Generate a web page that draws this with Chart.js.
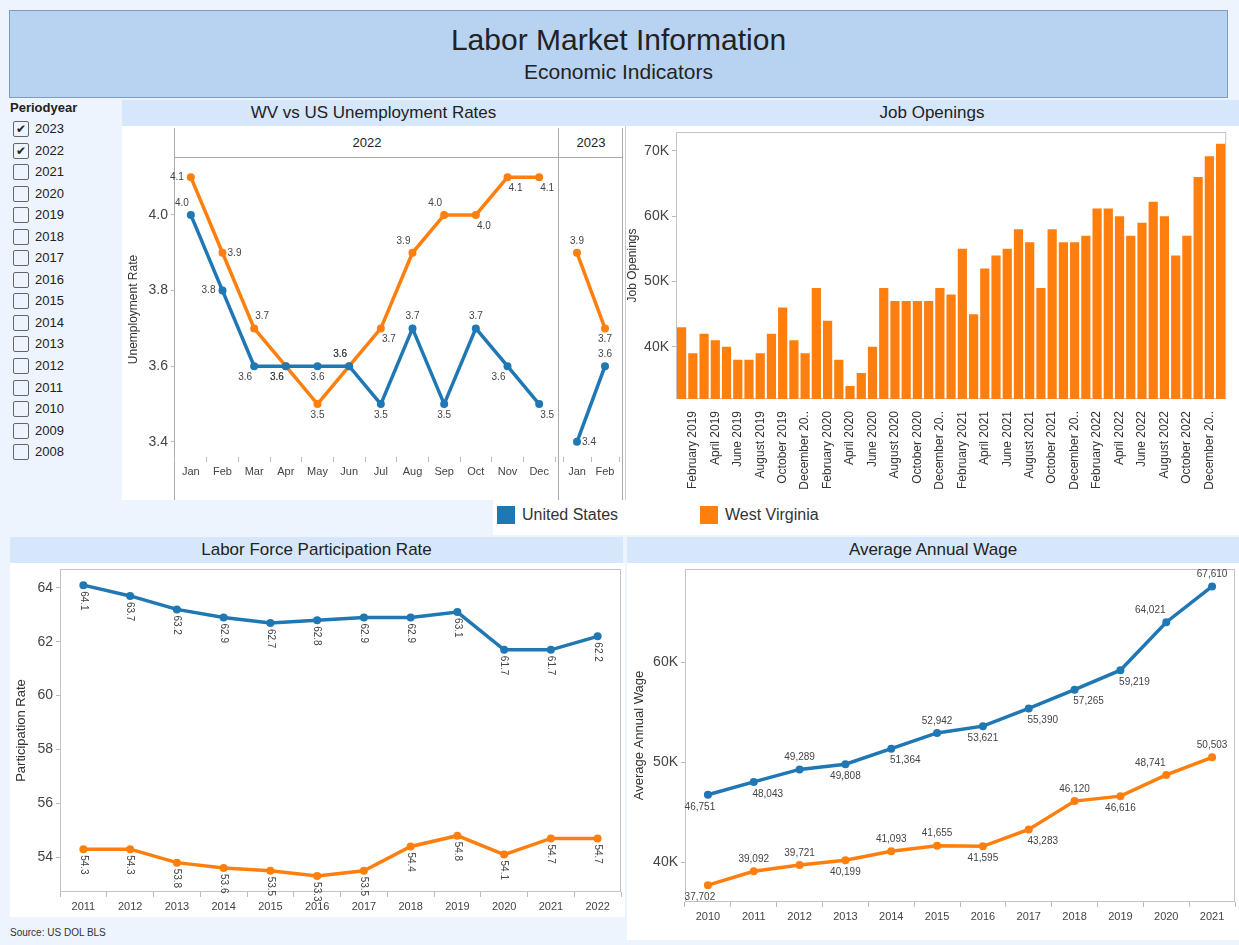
<!DOCTYPE html>
<html>
<head>
<meta charset="utf-8">
<script src="https://cdn.jsdelivr.net/npm/chart.js@4.4.0/dist/chart.umd.min.js"></script>
<style>
  body { margin: 0; background: #edf4fd; font-family: Arial, "Liberation Sans", sans-serif; color: #222; }
  #page { position: relative; width: 1239px; height: 945px; overflow: hidden; }
  .abs { position: absolute; }
  .banner { left: 9px; top: 10px; width: 1217px; height: 86px; background: #b8d3f2; border: 1px solid #7f9cc0; text-align: center; }
  .banner h1 { margin: 0; position: absolute; top: 12px; width: 100%; font-size: 30px; font-weight: normal; }
  .banner h2 { margin: 0; position: absolute; top: 49px; width: 100%; font-size: 21px; font-weight: normal; }
  .bar { background: #d6e7fb; height: 26px; line-height: 26px; text-align: center; font-size: 17px; }
  .panel { background: #fff; }
  .filter { left: 10px; top: 100px; font-size: 13px; }
  .filter b { display: block; height: 18px; }
  .cb { position: relative; height: 21.55px; line-height: 21.55px; padding-left: 25px; }
  .cb span { position: absolute; left: 3px; top: 3px; width: 14px; height: 14px; border: 1.5px solid #666; border-radius: 2px; font-size: 12px; line-height: 14px; text-align: center; }
  .legend { left: 493px; top: 500px; width: 746px; height: 35px; background: #fff; font-size: 16px; }
  .legend i { position: absolute; top: 6px; width: 18px; height: 18px; }
  .legend em { position: absolute; top: 6px; font-style: normal; color: #333; }
  canvas { position: absolute; }
</style>
</head>
<body>
<div id="page">
  <div class="abs banner"><h1>Labor Market Information</h1><h2>Economic Indicators</h2></div>

  <div class="abs filter" id="filter"><b>Periodyear</b></div>

  <div class="abs bar" style="left:122px;top:100px;width:503px;">WV vs US Unemployment Rates</div>
  <div class="abs bar" style="left:625px;top:100px;width:614px;">Job Openings</div>
  <div class="abs panel" style="left:122px;top:126px;width:503px;height:374px;"></div>
  <div class="abs panel" style="left:625px;top:126px;width:614px;height:374px;border-left:1px solid #ccc;"></div>

  <!-- facet header and frame lines for the unemployment panel -->
  <div class="abs" style="left:175px;top:128px;width:384px;height:29px;line-height:30px;text-align:center;font-size:13px;border-bottom:1px solid #aaa;">2022</div>
  <div class="abs" style="left:559px;top:128px;width:64px;height:29px;line-height:30px;text-align:center;font-size:13px;border-bottom:1px solid #aaa;">2023</div>
  <div class="abs" style="left:174px;top:128px;width:1px;height:372px;background:#aaa;"></div>
  <div class="abs" style="left:558px;top:128px;width:1px;height:372px;background:#aaa;"></div>
  <div class="abs" style="left:622px;top:128px;width:1px;height:372px;background:#aaa;"></div>

  <div class="abs legend">
    <i style="left:4px;background:#1f77b4;"></i><em style="left:29px;">United States</em>
    <i style="left:207px;background:#ff7f0e;"></i><em style="left:232px;">West Virginia</em>
  </div>

  <div class="abs bar" style="left:10px;top:537px;width:613px;">Labor Force Participation Rate</div>
  <div class="abs bar" style="left:627px;top:537px;width:612px;">Average Annual Wage</div>
  <div class="abs panel" style="left:10px;top:563px;width:615px;height:354px;"></div>
  <div class="abs panel" style="left:627px;top:563px;width:612px;height:377px;"></div>
  <div class="abs" style="left:10px;top:927px;font-size:10px;color:#333;">Source: US DOL BLS</div>

  <canvas id="unemp22" width="437" height="342" style="left:122px;top:158px;"></canvas>
  <canvas id="unemp23" width="64" height="342" style="left:559px;top:158px;"></canvas>
  <canvas id="jobs" width="614" height="372" style="left:625px;top:128px;"></canvas>
  <canvas id="lfpr" width="615" height="352" style="left:10px;top:565px;"></canvas>
  <canvas id="wage" width="612" height="375" style="left:627px;top:565px;"></canvas>
</div>

<script>
// ---- data ----
var filterYears = [2023, 2022, 2021, 2020, 2019, 2018, 2017, 2016, 2015, 2014, 2013, 2012, 2011, 2010, 2009, 2008];
var checkedYears = [2023, 2022];

var months2022 = ["Jan", "Feb", "Mar", "Apr", "May", "Jun", "Jul", "Aug", "Sep", "Oct", "Nov", "Dec"];
var months2023 = ["Jan", "Feb"];
var usUnemp2022 = [4.0, 3.8, 3.6, 3.6, 3.6, 3.6, 3.5, 3.7, 3.5, 3.7, 3.6, 3.5];
var wvUnemp2022 = [4.1, 3.9, 3.7, 3.6, 3.5, 3.6, 3.7, 3.9, 4.0, 4.0, 4.1, 4.1];
var usUnemp2023 = [3.4, 3.6];
var wvUnemp2023 = [3.9, 3.7];
var unempTicks = [3.4, 3.6, 3.8, 4.0];

var jobMonths = [
  "January 2019", "February 2019", "March 2019", "April 2019", "May 2019", "June 2019",
  "July 2019", "August 2019", "September 2019", "October 2019", "November 2019", "December 2019",
  "January 2020", "February 2020", "March 2020", "April 2020", "May 2020", "June 2020",
  "July 2020", "August 2020", "September 2020", "October 2020", "November 2020", "December 2020",
  "January 2021", "February 2021", "March 2021", "April 2021", "May 2021", "June 2021",
  "July 2021", "August 2021", "September 2021", "October 2021", "November 2021", "December 2021",
  "January 2022", "February 2022", "March 2022", "April 2022", "May 2022", "June 2022",
  "July 2022", "August 2022", "September 2022", "October 2022", "November 2022", "December 2022",
  "January 2023"
];
var jobOpenings = [
  43000, 39000, 42000, 41000, 40000, 38000, 38000, 39000, 42000, 46000, 41000, 39000,
  49000, 44000, 38000, 34000, 36000, 40000, 49000, 47000, 47000, 47000, 47000, 49000,
  48000, 55000, 45000, 52000, 54000, 55000, 58000, 56000, 49000, 58000, 56000, 56000,
  57000, 61200, 61200, 60000, 57000, 59000, 62200, 60000, 54000, 57000, 66000, 69200,
  71100
];
var jobTicks = [40000, 50000, 60000, 70000];

var lfprYears = ["2011", "2012", "2013", "2014", "2015", "2016", "2017", "2018", "2019", "2020", "2021", "2022"];
var usLfpr = [64.1, 63.7, 63.2, 62.9, 62.7, 62.8, 62.9, 62.9, 63.1, 61.7, 61.7, 62.2];
var wvLfpr = [54.3, 54.3, 53.8, 53.6, 53.5, 53.3, 53.5, 54.4, 54.8, 54.1, 54.7, 54.7];
var lfprTicks = [54, 56, 58, 60, 62, 64];

var wageYears = ["2010", "2011", "2012", "2013", "2014", "2015", "2016", "2017", "2018", "2019", "2020", "2021"];
var usWage = [46751, 48043, 49289, 49808, 51364, 52942, 53621, 55390, 57265, 59219, 64021, 67610];
var wvWage = [37702, 39092, 39721, 40199, 41093, 41655, 41595, 43283, 46120, 46616, 48741, 50503];
var wageTicks = [40000, 50000, 60000];

// ---- filter list ----
var filter = document.getElementById('filter');
filterYears.forEach(function (y) {
  var d = document.createElement('div');
  d.className = 'cb';
  d.innerHTML = '<span>' + (checkedYears.indexOf(y) >= 0 ? '\u2714' : '') + '</span>' + y;
  filter.appendChild(d);
});

// ---- chart setup ----
var BLUE = '#1f77b4';
var ORANGE = '#ff7f0e';
Chart.defaults.font.family = 'Arial, "Liberation Sans", sans-serif';
Chart.defaults.color = '#333';
Chart.defaults.animation = false;

// pin the axis box sizes so plot areas line up with the layout
function fixWidth(w) { return function (s) { s.width = w; s.paddingTop = 0; s.paddingBottom = 0; }; }
function fixHeight(h) { return function (s) { s.height = h; }; }
function useTicks(list) {
  return function (s) { s.ticks = list.map(function (v) { return { value: v }; }); };
}
function kLabel(v) { return (v / 1000) + 'K'; }

// value labels next to points
var valueLabels = {
  id: 'valueLabels',
  afterDatasetsDraw: function (chart, args, opts) {
    var ctx = chart.ctx;
    var off = opts.offsets || {};
    chart.data.datasets.forEach(function (ds, i) {
      if (!ds.labelPos) return;
      var meta = chart.getDatasetMeta(i);
      meta.data.forEach(function (pt, j) {
        var txt = opts.format(ds.data[j]);
        ctx.save();
        ctx.font = (opts.size || 10) + 'px Arial, "Liberation Sans", sans-serif';
        ctx.fillStyle = '#444';
        if (opts.rotate) {
          ctx.translate(pt.x, pt.y + 6);
          ctx.rotate(Math.PI / 2);
          ctx.textAlign = 'left';
          ctx.textBaseline = 'middle';
          ctx.fillText(txt, 0, 0);
        } else {
          var o = off[ds.labelPos[j]] || [0, 0];
          ctx.textAlign = 'center';
          ctx.textBaseline = 'middle';
          ctx.fillText(txt, pt.x + o[0], pt.y + o[1]);
        }
        ctx.restore();
      });
    });
  }
};

// thin frame round the plot area
var plotFrame = {
  id: 'plotFrame',
  beforeDraw: function (chart) {
    var a = chart.chartArea, ctx = chart.ctx;
    ctx.save();
    ctx.strokeStyle = '#c4c4c4';
    ctx.lineWidth = 1;
    ctx.strokeRect(a.left + 0.5, a.top + 0.5, a.right - a.left - 1, a.bottom - a.top - 1);
    ctx.restore();
  }
};

function lineSet(label, data, color, pos) {
  return {
    label: label, data: data, borderColor: color, backgroundColor: color,
    borderWidth: 3.5, pointRadius: 4, pointHoverRadius: 4, pointBorderWidth: 0,
    tension: 0, clip: false, labelPos: pos
  };
}

function catAxis(size, h) {
  return {
    offset: true,
    grid: { offset: true, drawOnChartArea: false, tickLength: 5, color: '#bbb' },
    border: { display: false },
    ticks: { font: { size: size }, color: '#444', padding: 3, maxRotation: 0, autoSkip: false },
    afterFit: fixHeight(h)
  };
}

function valueAxis(min, max, list, title, titleSize, titlePad, width, fmt) {
  return {
    min: min, max: max,
    grid: { drawOnChartArea: false, tickLength: 4, color: '#bbb' },
    border: { display: false },
    ticks: { font: { size: 14 }, color: '#444', padding: 3, callback: fmt },
    title: { display: true, text: title, font: { size: titleSize }, color: '#333', padding: { top: titlePad, bottom: 0 } },
    afterBuildTicks: useTicks(list),
    afterFit: fixWidth(width)
  };
}

var unempOffsets = { a: [0, -12], b: [0, 11], l: [-14, 0], r: [12, 0], al: [-9, -12], ar: [8, -12], bl: [-9, 11], br: [8, 11] };
var unempLabelOpts = { format: function (v) { return v.toFixed(1); }, size: 10, offsets: unempOffsets };
function oneDecimal(v) { return v.toFixed(1); }

new Chart(document.getElementById('unemp22'), {
  type: 'line',
  data: {
    labels: months2022,
    datasets: [
      lineSet('United States', usUnemp2022, BLUE, ['al', 'l', 'bl', 'bl', 'b', 'al', 'b', 'a', 'b', 'a', 'bl', 'br']),
      lineSet('West Virginia', wvUnemp2022, ORANGE, ['l', 'r', 'ar', 'bl', 'b', 'al', 'br', 'al', 'al', 'br', 'br', 'br'])
    ]
  },
  options: {
    responsive: false,
    layout: { padding: 0 },
    plugins: { legend: { display: false }, tooltip: { enabled: false }, valueLabels: unempLabelOpts },
    scales: {
      x: catAxis(11, 43),
      y: valueAxis(3.36, 4.14, unempTicks, 'Unemployment Rate', 12, 4, 53, oneDecimal)
    }
  },
  plugins: [valueLabels]
});

new Chart(document.getElementById('unemp23'), {
  type: 'line',
  data: {
    labels: months2023,
    datasets: [
      lineSet('United States', usUnemp2023, BLUE, ['r', 'a']),
      lineSet('West Virginia', wvUnemp2023, ORANGE, ['a', 'b'])
    ]
  },
  options: {
    responsive: false,
    layout: { padding: 0 },
    plugins: { legend: { display: false }, tooltip: { enabled: false }, valueLabels: unempLabelOpts },
    scales: {
      x: catAxis(11, 43),
      y: { min: 3.36, max: 4.14, display: false }
    }
  },
  plugins: [valueLabels]
});

// job openings
var measureCtx = document.createElement('canvas').getContext('2d');
measureCtx.font = '12px Arial, "Liberation Sans", sans-serif';
new Chart(document.getElementById('jobs'), {
  type: 'bar',
  data: {
    labels: jobMonths,
    datasets: [{ label: 'Job Openings', data: jobOpenings, backgroundColor: ORANGE,
                 categoryPercentage: 1, barPercentage: 0.82 }]
  },
  options: {
    responsive: false,
    layout: { padding: { top: 4, right: 1 } },
    plugins: { legend: { display: false }, tooltip: { enabled: false } },
    scales: {
      x: {
        grid: { display: false },
        border: { display: false },
        ticks: {
          autoSkip: false, minRotation: 90, maxRotation: 90, padding: 4,
          font: { size: 12 }, color: '#333',
          callback: function (v, i) {
            if (i % 2 === 0) return '';
            var l = jobMonths[i];
            if (measureCtx.measureText(l).width > 80) return l.slice(0, l.length - 2) + '..';
            return l;
          }
        },
        afterFit: fixHeight(101)
      },
      y: valueAxis(32000, 72900, jobTicks, 'Job Openings', 12, 0, 51, kLabel)
    }
  },
  plugins: [plotFrame]
});

// labour force participation
new Chart(document.getElementById('lfpr'), {
  type: 'line',
  data: {
    labels: lfprYears,
    datasets: [
      lineSet('United States', usLfpr, BLUE, usLfpr.map(function () { return 'b'; })),
      lineSet('West Virginia', wvLfpr, ORANGE, wvLfpr.map(function () { return 'b'; }))
    ]
  },
  options: {
    responsive: false,
    layout: { padding: { top: 2, right: 1 } },
    plugins: { legend: { display: false }, tooltip: { enabled: false },
               valueLabels: { format: oneDecimal, size: 10, rotate: true } },
    scales: {
      x: catAxis(11, 25),
      y: valueAxis(52.71, 64.7, lfprTicks, 'Participation Rate', 13, 4, 50, function (v) { return v; })
    }
  },
  plugins: [plotFrame, valueLabels]
});

// average annual wage
new Chart(document.getElementById('wage'), {
  type: 'line',
  data: {
    labels: wageYears,
    datasets: [
      lineSet('United States', usWage, BLUE, ['bl', 'br', 'a', 'b', 'br', 'a', 'b', 'br', 'br', 'br', 'al', 'a']),
      lineSet('West Virginia', wvWage, ORANGE, ['bl', 'a', 'a', 'b', 'a', 'a', 'b', 'br', 'a', 'b', 'al', 'a'])
    ]
  },
  options: {
    responsive: false,
    layout: { padding: { top: 2, right: 1 } },
    plugins: { legend: { display: false }, tooltip: { enabled: false },
               valueLabels: { format: function (v) { return v.toLocaleString('en-US'); }, size: 10,
                              offsets: { a: [0, -12], b: [0, 12], bl: [-8, 12], br: [14, 12], al: [-16, -12] } } },
    scales: {
      x: catAxis(11, 38),
      y: valueAxis(36020, 69350, wageTicks, 'Average Annual Wage', 13, 5, 58, kLabel)
    }
  },
  plugins: [plotFrame, valueLabels]
});
</script>
</body>
</html>
